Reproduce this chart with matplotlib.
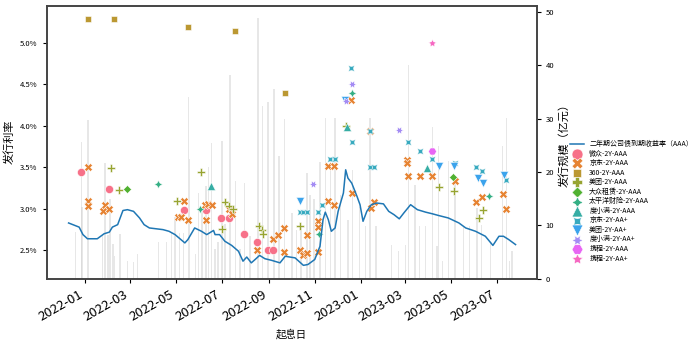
import pandas as pd
import matplotlib
matplotlib.use("Agg")
import matplotlib.pyplot as plt
import matplotlib.dates as mdates
from matplotlib.ticker import FuncFormatter, MultipleLocator
import seaborn as sns

plt.rcParams['font.family'] = ['Noto Sans CJK SC', 'DejaVu Sans']
plt.rcParams['axes.unicode_minus'] = False

# 二年期公司债到期收益率（AAA）
curve_dates = ['2021-12-10', '2021-12-24', '2021-12-29', '2022-01-04', '2022-01-17', '2022-01-26',
               '2022-02-02', '2022-02-06', '2022-02-13', '2022-02-20', '2022-02-26', '2022-03-06',
               '2022-03-14', '2022-03-20', '2022-03-27', '2022-04-05', '2022-04-14', '2022-04-22',
               '2022-04-30', '2022-05-13', '2022-05-17', '2022-05-26', '2022-06-04', '2022-06-11',
               '2022-06-20', '2022-06-22', '2022-06-28', '2022-07-05', '2022-07-14', '2022-07-23',
               '2022-07-29', '2022-08-03', '2022-08-09', '2022-08-14', '2022-08-20', '2022-08-27',
               '2022-09-05', '2022-09-16', '2022-09-23', '2022-09-29', '2022-10-06', '2022-10-17',
               '2022-10-23', '2022-11-01', '2022-11-08', '2022-11-12', '2022-11-15', '2022-11-19',
               '2022-11-23', '2022-11-28', '2022-12-02', '2022-12-09', '2022-12-12', '2022-12-15',
               '2022-12-20', '2022-12-27', '2022-12-31', '2023-01-04', '2023-01-09', '2023-01-15',
               '2023-01-22', '2023-01-31', '2023-02-07', '2023-02-14', '2023-02-21', '2023-02-27',
               '2023-03-08', '2023-03-17', '2023-03-28', '2023-04-06', '2023-04-14', '2023-04-27',
               '2023-05-11', '2023-05-20', '2023-06-02', '2023-06-15', '2023-06-25', '2023-07-03',
               '2023-07-09', '2023-07-16', '2023-07-25']
curve_yield = [2.83, 2.78, 2.69, 2.64, 2.64, 2.70, 2.72, 2.78, 2.81, 2.98, 2.99, 2.97,
               2.89, 2.81, 2.77, 2.76, 2.75, 2.73, 2.69, 2.59, 2.63, 2.77, 2.73, 2.69,
               2.74, 2.69, 2.69, 2.61, 2.56, 2.49, 2.37, 2.42, 2.35, 2.39, 2.44, 2.40,
               2.38, 2.35, 2.43, 2.42, 2.41, 2.32, 2.33, 2.39, 2.55, 2.87, 2.96, 2.87,
               2.73, 2.77, 2.97, 3.19, 3.47, 3.37, 3.31, 3.15, 3.05, 2.85, 2.97, 3.05,
               3.07, 3.06, 2.97, 2.93, 2.88, 2.95, 3.05, 2.99, 2.96, 2.94, 2.92, 2.89,
               2.83, 2.77, 2.73, 2.67, 2.56, 2.67, 2.67, 2.63, 2.57]

# 发行规模（亿元）
issue_dates = ['2021-12-19', '2021-12-27', '2021-12-28', '2022-01-05', '2022-01-24', '2022-01-27',
               '2022-01-31', '2022-02-03', '2022-02-07', '2022-02-09', '2022-02-16', '2022-02-26',
               '2022-03-06', '2022-03-11', '2022-04-08', '2022-04-19', '2022-04-25', '2022-04-30',
               '2022-05-06', '2022-05-11', '2022-05-18', '2022-05-19', '2022-05-27', '2022-05-31',
               '2022-06-05', '2022-06-10', '2022-06-13', '2022-06-17', '2022-06-22', '2022-06-26',
               '2022-07-01', '2022-07-05', '2022-07-12', '2022-07-19', '2022-07-25', '2022-07-31',
               '2022-08-07', '2022-08-18', '2022-08-24', '2022-08-31', '2022-09-08', '2022-09-15',
               '2022-09-22', '2022-10-02', '2022-10-08', '2022-10-14', '2022-10-22', '2022-10-26',
               '2022-10-31', '2022-11-08', '2022-11-15', '2022-11-22', '2022-11-28', '2022-12-05',
               '2022-12-15', '2022-12-21', '2022-12-30', '2023-01-07', '2023-01-13', '2023-01-21',
               '2023-02-11', '2023-02-20', '2023-03-01', '2023-03-05', '2023-03-14', '2023-03-20',
               '2023-03-28', '2023-04-06', '2023-04-12', '2023-04-14', '2023-04-19', '2023-04-27',
               '2023-05-06', '2023-05-17', '2023-05-25', '2023-06-04', '2023-06-10', '2023-06-22',
               '2023-07-08', '2023-07-13', '2023-07-17', '2023-07-20']
issue_size = [8.8, 25.6, 13.5, 29.7, 8.2, 21.6,
              8.2, 14.9, 6.5, 4.3, 8.3, 3.3,
              3.1, 4.6, 6.9, 6.9, 8.6, 11.5,
              8.6, 8.6, 34.0, 22.4, 4.6, 16.0,
              13.4, 17.3, 21.0, 25.4, 5.5, 6.8,
              25.8, 10.3, 38.2, 18.3, 5.5, 18.0,
              8.0, 48.8, 32.3, 33.2, 35.6, 23.0,
              30.0, 12.3, 9.2, 9.9, 19.9, 15.7,
              14.9, 21.8, 30.1, 22.5, 30.1, 15.6,
              11.0, 20.4, 13.4, 9.8, 30.1, 9.8,
              6.3, 5.2, 6.3, 40.0, 17.6, 9.8,
              9.8, 28.5, 6.2, 24.8, 3.3, 22.0,
              18.2, 9.8, 9.8, 13.3, 10.0, 6.7,
              24.9, 30.1, 3.3, 5.1]

# 各发行人发行利率（%）
wz_aaa_dates = ['2021-12-26', '2022-02-02', '2022-05-12', '2022-06-10', '2022-06-30', '2022-07-11',
                '2022-07-30', '2022-08-17', '2022-08-31', '2022-09-07']
wz_aaa_rate = [3.44, 3.24, 2.99, 2.99, 2.89, 2.89, 2.70, 2.60, 2.50, 2.50]

jd_aaa_dates = ['2022-01-05', '2022-01-05', '2022-01-05', '2022-01-27', '2022-01-24', '2022-02-01',
                '2022-05-12', '2022-05-04', '2022-05-08', '2022-05-17', '2022-06-10', '2022-06-09',
                '2022-06-13', '2022-06-18', '2022-07-11', '2022-07-15', '2022-08-17', '2022-09-07',
                '2022-09-14', '2022-09-21', '2022-09-21', '2022-10-12', '2022-10-17', '2022-10-22',
                '2022-10-22', '2022-11-06', '2022-11-06', '2022-11-06', '2022-11-19', '2022-11-27',
                '2022-11-18', '2022-11-27', '2022-12-20', '2022-12-19', '2023-01-13', '2023-01-14',
                '2023-01-18', '2023-03-03', '2023-03-03', '2023-03-05', '2023-03-21', '2023-04-05',
                '2023-05-06', '2023-06-02', '2023-06-11', '2023-07-08', '2023-07-12']
jd_aaa_rate = [3.50, 3.10, 3.03, 3.05, 2.97, 3.00,
               3.10, 2.90, 2.90, 2.87, 2.86, 3.05,
               3.06, 3.05, 3.00, 2.94, 2.50, 2.64,
               2.69, 2.77, 2.48, 2.50, 2.45, 2.47,
               2.69, 2.85, 2.78, 2.48, 3.10, 3.05,
               3.51, 3.51, 3.19, 4.31, 3.94, 3.01,
               3.08, 3.59, 3.55, 3.40, 3.40, 3.39,
               3.33, 3.08, 3.14, 3.18, 3.00]

q360_aaa_dates = ['2022-01-05', '2022-02-08', '2022-05-17', '2022-07-19', '2022-09-22']
q360_aaa_rate = [5.29, 5.29, 5.19, 5.14, 4.39]

mt_aaa_dates = ['2022-02-04', '2022-02-15', '2022-05-02', '2022-06-04', '2022-07-05', '2022-07-10',
                '2022-07-16', '2022-07-01', '2022-08-19', '2022-08-23', '2022-08-24', '2022-10-13',
                '2022-12-12', '2023-04-14', '2023-05-04', '2023-06-12', '2023-06-06']
mt_aaa_rate = [3.49, 3.23, 3.09, 3.44, 3.08, 3.04,
               3.00, 2.76, 2.79, 2.75, 2.70, 2.79,
               4.00, 3.26, 3.22, 2.99, 2.89]

dz_aaa_dates = ['2022-02-26', '2023-05-03']
dz_aaa_rate = [3.24, 3.38]

tpy_aaa_dates = ['2022-04-08', '2022-06-02', '2022-11-07', '2022-12-21', '2023-06-20']
tpy_aaa_rate = [3.30, 3.00, 2.70, 4.40, 3.15]

dxm_aaa_dates = ['2022-06-17', '2022-12-14', '2023-03-30']
dxm_aaa_rate = [3.28, 3.99, 3.49]

jd_aap_dates = ['2022-10-12', '2022-10-17', '2022-10-22', '2022-11-06', '2022-11-11', '2022-11-21',
                '2022-11-28', '2022-12-19', '2022-12-21', '2023-01-13', '2023-01-13', '2023-01-19',
                '2023-03-04', '2023-03-21', '2023-04-05', '2023-05-06', '2023-06-02', '2023-06-11',
                '2023-07-13']
jd_aap_rate = [2.96, 2.96, 2.96, 2.96, 3.05, 3.60,
               3.60, 4.70, 3.80, 3.94, 3.50, 3.50,
               3.80, 3.70, 3.60, 3.55, 3.50, 3.45,
               3.35]

mt_aap_dates = ['2022-10-12', '2022-12-11', '2023-04-14', '2023-05-04', '2023-06-05', '2023-06-12',
                '2023-07-10']
mt_aap_rate = [3.10, 4.31, 3.51, 3.51, 3.37, 3.31, 3.41]

dxm_aap_dates = ['2022-10-30', '2022-12-12', '2022-12-20', '2023-02-20']
dxm_aap_rate = [3.30, 4.30, 4.50, 3.95]

xc_aaa_dates = ['2023-04-05']
xc_aaa_rate = [3.70]

xc_aap_dates = ['2023-04-05']
xc_aap_rate = [5.00]

issuer_names = ['微众-2Y-AAA', '京东-2Y-AAA', '360-2Y-AAA', '美团-2Y-AAA', '大众租赁-2Y-AAA',
                '太平洋财险-2Y-AAA', '度小满-2Y-AAA', '京东-2Y-AA+', '美团-2Y-AA+',
                '度小满-2Y-AA+', '携程-2Y-AAA', '携程-2Y-AA+']
issuer_data = [(wz_aaa_dates, wz_aaa_rate), (jd_aaa_dates, jd_aaa_rate),
               (q360_aaa_dates, q360_aaa_rate), (mt_aaa_dates, mt_aaa_rate),
               (dz_aaa_dates, dz_aaa_rate), (tpy_aaa_dates, tpy_aaa_rate),
               (dxm_aaa_dates, dxm_aaa_rate), (jd_aap_dates, jd_aap_rate),
               (mt_aap_dates, mt_aap_rate), (dxm_aap_dates, dxm_aap_rate),
               (xc_aaa_dates, xc_aaa_rate), (xc_aap_dates, xc_aap_rate)]

# seaborn style markers / husl colours
markers = ['o', 'X', (4, 0, 45), 'P', (4, 0, 0), (4, 1, 0), '^', (4, 1, 45), 'v',
           (6, 1, 30), (6, 0, 30), (5, 1, 0)]
colors = sns.husl_palette(len(issuer_names))

fig, ax1 = plt.subplots(figsize=(7, 3.47), dpi=100)
fig.subplots_adjust(left=0.0667, right=0.7667, bottom=0.197, top=0.9836)
ax2 = ax1.twinx()
ax1.set_zorder(ax2.get_zorder() + 1)
ax1.patch.set_visible(False)

# volume bars
ax2.bar(pd.to_datetime(issue_dates), issue_size, width=2, color='#d0d0d0', alpha=0.5, linewidth=0)
ax2.set_ylim(0, 51.2)
ax2.yaxis.set_major_locator(MultipleLocator(10))
ax2.set_ylabel('发行规模（亿元）', fontsize=8, labelpad=3)

# yield curve
line, = ax1.plot(pd.to_datetime(curve_dates), curve_yield, color='#1f77b4', lw=1.1)

handles = [line]
for name, (d, r), m, c in zip(issuer_names, issuer_data, markers, colors):
    h = ax1.scatter(pd.to_datetime(d), r, marker=m, color=c, s=34,
                    edgecolor='white', linewidth=0.4, label=name)
    handles.append(h)

ax1.set_ylim(2.16, 5.445)
ax1.yaxis.set_major_locator(MultipleLocator(0.5))
ax1.yaxis.set_major_formatter(FuncFormatter(lambda v, p: f'{v:.1f}%'))
ax1.set_ylabel('发行利率', fontsize=8)
ax1.set_xlabel('起息日', fontsize=7.5)

ax1.set_xlim(pd.Timestamp('2021-11-11'), pd.Timestamp('2023-08-22'))
ax1.xaxis.set_major_locator(mdates.MonthLocator(bymonth=[1, 3, 5, 7, 9, 11]))
ax1.xaxis.set_major_formatter(mdates.DateFormatter('%Y-%m'))
plt.setp(ax1.get_xticklabels(), rotation=30, ha='right')
ax1.tick_params(axis='x', labelsize=9.5, length=3)
ax1.tick_params(axis='y', labelsize=5.5, length=3)
ax2.tick_params(axis='y', labelsize=5.5, length=3)

for ax in (ax1, ax2):
    for sp in ax.spines.values():
        sp.set_color('#444444')
        sp.set_linewidth(1.2)

labels = ['二年期公司债到期收益率（AAA）'] + issuer_names
fig.legend(handles, labels, loc='upper left', bbox_to_anchor=(0.81, 0.604),
           frameon=False, fontsize=5.0, markerscale=1.35, labelspacing=0.22,
           handlelength=2.0, handletextpad=0.8, borderaxespad=0)

fig.savefig('out.png', dpi=100)
